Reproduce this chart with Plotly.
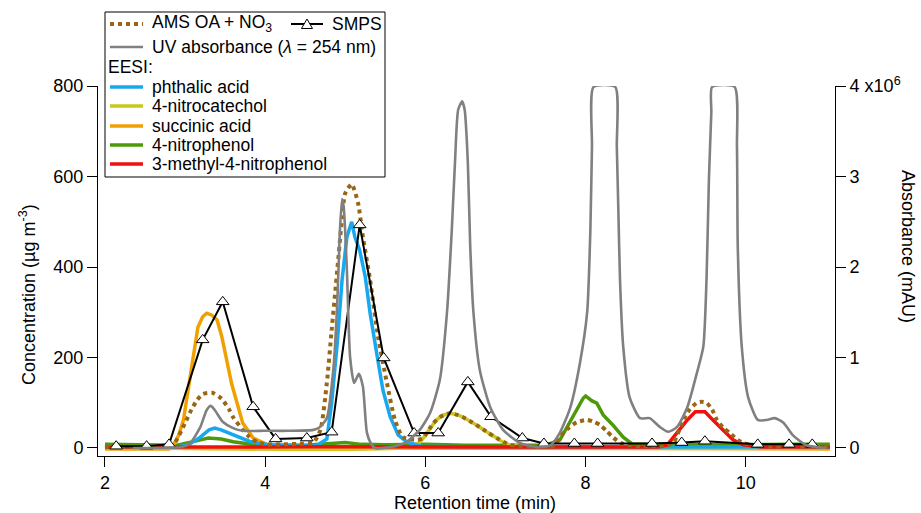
import plotly.graph_objects as go

# ---------------- data ----------------
ams_t = [2.0, 2.5, 2.8, 2.87, 3.0, 3.08, 3.15, 3.22, 3.34, 3.42, 3.47, 3.55, 3.6, 3.72, 3.8, 3.9, 4.02,
         4.2, 4.4, 4.6, 4.69, 4.77, 4.83, 4.9, 4.95, 5.0, 5.08, 5.16, 5.22, 5.31, 5.41, 5.52, 5.62, 5.72,
         5.9, 5.97, 6.1, 6.2, 6.31, 6.4, 6.47, 6.58, 6.68, 6.79, 6.89, 7.06, 7.3, 7.6, 7.72, 7.8, 7.89,
         8.02, 8.1, 8.18, 8.26, 8.34, 8.45, 8.7, 9.0, 9.1, 9.22, 9.3, 9.39, 9.45, 9.51, 9.58, 9.64, 9.72,
         9.8, 9.9, 9.97, 10.2, 10.6, 11.05]
ams_v = [3, 3, 4, 11, 55, 85, 106, 119, 122, 114, 106, 85, 68, 40, 25, 13, 8,
         8, 9, 12, 40, 144, 260, 393, 490, 563, 583, 541, 467, 371, 245, 144, 62, 24,
         18, 22, 55, 70, 77, 73, 68, 57, 46, 33, 22, 7, 4, 5, 33, 46, 57,
         62, 58, 51, 38, 24, 10, 4, 5, 13, 62, 85, 100, 102, 100, 85, 62, 45,
         33, 18, 11, 4, 3, 3]

smps_t = [2.14, 2.52, 2.80, 3.22, 3.47, 3.85, 4.13, 4.52, 4.83, 5.18, 5.48, 5.86, 6.16, 6.53, 6.82,
          7.21, 7.48, 7.86, 8.15, 8.83, 9.20, 9.49, 10.15, 10.54, 10.83]
smps_v = [4, 4, 8, 239, 323, 91, 20, 22, 35, 493, 199, 33, 33, 146, 69,
          22, 10, 10, 10, 10, 12, 15, 8, 8, 8]

uv_t = [2.35, 2.77, 2.95, 3.06, 3.19, 3.27, 3.32, 3.37, 3.47, 3.6, 3.72, 4.0, 4.3, 4.6, 4.68, 4.77,
        4.85, 4.9, 4.93, 4.96, 4.98, 5.02, 5.06, 5.11, 5.17, 5.22, 5.27, 5.32, 5.37, 5.56, 5.75, 5.93,
        6.06, 6.18, 6.27, 6.33, 6.37, 6.41, 6.46, 6.49, 6.53, 6.56, 6.6, 6.68, 6.81, 6.97, 7.18, 7.39,
        7.56, 7.68, 7.81, 7.93, 8.02, 8.06, 8.08, 8.1, 8.37, 8.39, 8.41, 8.43, 8.47, 8.55, 8.68, 8.8,
        8.93, 9.03, 9.14, 9.27, 9.39, 9.47, 9.51, 9.54, 9.57, 9.58, 9.86, 9.89, 9.9, 9.95, 10.03, 10.15,
        10.26, 10.36, 10.47, 10.59, 10.76, 11.01]
uv_v_1e6 = [0.0, 0.0, 0.01, 0.05, 0.23, 0.42, 0.465, 0.42, 0.29, 0.22, 0.19, 0.19, 0.19, 0.2, 0.23, 0.33,
            0.86, 1.6, 2.34, 2.75, 2.67, 1.97, 1.01, 0.72, 0.82, 0.68, 0.17, 0.05, 0.0, 0.01, 0.06, 0.2,
            0.39, 0.75, 1.5, 2.41, 3.16, 3.74, 3.83, 3.74, 3.16, 2.23, 1.5, 0.86, 0.45, 0.2, 0.055, 0.01,
            0.03, 0.17, 0.45, 0.94, 1.5, 2.41, 3.33, 3.99, 3.99, 3.33, 2.6, 1.86, 1.12, 0.56, 0.33, 0.33,
            0.23, 0.18, 0.23, 0.45, 0.83, 1.12, 1.86, 2.97, 3.71, 3.99, 3.99, 3.33, 2.23, 1.12, 0.56, 0.31,
            0.31, 0.33, 0.28, 0.14, 0.03, 0.0]

phthalic_t = [2.0, 2.9, 3.05, 3.19, 3.3, 3.37, 3.45, 3.52, 3.6, 3.69, 3.8, 3.9, 4.1, 4.4, 4.65, 4.77,
              4.83, 4.9, 4.96, 5.02, 5.05, 5.08, 5.12, 5.18, 5.25, 5.31, 5.4, 5.47, 5.56, 5.66, 5.77,
              5.95, 6.5, 7.5, 8.5, 9.5, 10.5, 11.05]
phthalic_v = [2, 2, 8, 24, 40, 44, 40, 35, 29, 22, 15, 11, 6, 4, 6, 20,
              99, 232, 371, 466, 482, 500, 466, 437, 378, 298, 201, 128, 69, 29, 13,
              4, 3, 2, 2, 2, 2, 2]

nitrocatechol_t = [2.0, 5.8, 5.93, 6.02, 6.14, 6.22, 6.31, 6.4, 6.47, 6.58, 6.68, 6.79, 6.89, 7.0, 7.2, 11.05]
nitrocatechol_v = [1, 2, 13, 33, 62, 72, 77, 73, 68, 57, 46, 33, 22, 10, 3, 1]

succinic_t = [2.0, 2.8, 2.85, 2.92, 2.98, 3.03, 3.08, 3.12, 3.16, 3.22, 3.27, 3.33, 3.4, 3.46, 3.52,
              3.58, 3.65, 3.72, 3.85, 4.02, 4.3, 11.05]
succinic_v = [-2, -2, 5, 28, 62, 120, 172, 230, 267, 290, 298, 294, 283, 245, 194,
              143, 99, 55, 22, 8, 0, -2]

nitrophenol_t = [2.0, 2.5, 2.9, 3.1, 3.29, 3.45, 3.6, 3.8, 4.0, 4.5, 4.9, 5.0, 5.2, 5.5, 6.0, 6.5, 7.0,
                 7.5, 7.68, 7.75, 7.81, 7.89, 7.97, 8.0, 8.08, 8.14, 8.18, 8.22, 8.34, 8.47, 8.58, 8.8,
                 9.2, 9.6, 10.0, 10.5, 11.05]
nitrophenol_v = [8, 7, 6, 14, 22, 20, 14, 9, 7, 6, 10, 12, 8, 7, 8, 6, 6,
                 6, 18, 40, 62, 84, 110, 115, 104, 99, 84, 73, 51, 24, 9, 8,
                 8, 7, 8, 8, 8]

methylnitrophenol_t = [2.0, 2.8, 3.5, 4.5, 5.5, 6.5, 7.5, 8.5, 8.9, 9.02, 9.14, 9.27, 9.37, 9.43, 9.49,
                       9.59, 9.72, 9.84, 9.97, 10.2, 11.05]
methylnitrophenol_v = [2, 1, 2, 3, 3, 2, 2, 2, 2, 7, 33, 62, 80, 80, 80,
                       62, 40, 18, 7, 2, 2]

x_ticks = [2, 4, 6, 8, 10]
y_ticks = [0, 200, 400, 600, 800]
y2_ticks = [0, 1e6, 2e6, 3e6, 4e6]
y2_ticktext = ["0", "1", "2", "3", "4 x10<sup>6</sup>"]

# ---------------- styling ----------------
FONT = "Liberation Sans, Arial, sans-serif"
C_AMS = "#9A6614"
C_UV = "#808080"
C_BLUE = "#18A8F0"
C_YEL = "#C8C81E"
C_ORA = "#F0A000"
C_GRN = "#4C9A0A"
C_RED = "#F01010"

W, H = 921, 513
L, R, T, B = 98, 86, 86, 57
PW, PH = W - L - R, H - T - B


def px(xp):
    return (xp - L) / PW


def py(yp):
    return (H - B - yp) / PH


fig = go.Figure()

fig.add_trace(go.Scatter(x=uv_t, y=[v * 1e6 for v in uv_v_1e6], yaxis="y2", mode="lines",
                         line=dict(color=C_UV, width=2.6, shape="spline", smoothing=0.6),
                         name="UV absorbance"))
fig.add_trace(go.Scatter(x=nitrophenol_t, y=nitrophenol_v, mode="lines",
                         line=dict(color=C_GRN, width=3.5), name="4-nitrophenol"))
fig.add_trace(go.Scatter(x=succinic_t, y=succinic_v, mode="lines",
                         line=dict(color=C_ORA, width=3.5), name="succinic acid"))
fig.add_trace(go.Scatter(x=nitrocatechol_t, y=nitrocatechol_v, mode="lines",
                         line=dict(color=C_YEL, width=3.5, shape="spline", smoothing=0.6),
                         name="4-nitrocatechol"))
fig.add_trace(go.Scatter(x=phthalic_t, y=phthalic_v, mode="lines",
                         line=dict(color=C_BLUE, width=3.5), name="phthalic acid"))
fig.add_trace(go.Scatter(x=methylnitrophenol_t, y=methylnitrophenol_v, mode="lines",
                         line=dict(color=C_RED, width=3.5), name="3-methyl-4-nitrophenol"))
fig.add_trace(go.Scatter(x=ams_t, y=ams_v, mode="lines",
                         line=dict(color=C_AMS, width=4, dash="dot", shape="spline", smoothing=0.6),
                         name="AMS OA + NO3"))
fig.add_trace(go.Scatter(x=smps_t, y=smps_v, mode="lines+markers",
                         line=dict(color="black", width=2),
                         marker=dict(symbol="triangle-up", size=11, color="white",
                                     line=dict(color="black", width=1)),
                         name="SMPS"))

ymin = -17.7
axis_common = dict(showgrid=False, zeroline=False, showline=True, linecolor="black", linewidth=1,
                   ticks="outside", ticklen=10, tickwidth=1, tickcolor="black",
                   tickfont=dict(family=FONT, size=18, color="black"))

fig.update_layout(
    width=W, height=H, margin=dict(l=L, r=R, t=T, b=B),
    paper_bgcolor="white", plot_bgcolor="white", showlegend=False,
    font=dict(family=FONT, size=18, color="black"),
    xaxis=dict(range=[1.913, 11.114], tickvals=x_ticks, **axis_common),
    yaxis=dict(range=[ymin, 800], tickvals=y_ticks, **axis_common),
    yaxis2=dict(range=[ymin * 5000, 4e6], overlaying="y", side="right", tickvals=y2_ticks,
                ticktext=y2_ticktext, **axis_common),
)

ann = []
ann.append(dict(text="Retention time (min)", x=px(475), y=py(503), xref="paper", yref="paper",
                showarrow=False, xanchor="center", yanchor="middle", font=dict(size=18)))
ann.append(dict(text="Concentration (µg m<sup>-3</sup>)", x=px(27), y=py(295), xref="paper", yref="paper",
                showarrow=False, xanchor="center", yanchor="middle", textangle=-90, font=dict(size=18)))
ann.append(dict(text="Absorbance (mAU)", x=px(908), y=py(246), xref="paper", yref="paper",
                showarrow=False, xanchor="center", yanchor="middle", textangle=90, font=dict(size=18)))

shapes = []
# legend box
shapes.append(dict(type="rect", xref="paper", yref="paper", x0=px(105), x1=px(385), y0=py(177), y1=py(12),
                   line=dict(color="black", width=1), fillcolor="white", layer="above"))

LEG_FS = 17.5
sw0, sw1, tx = 110, 143, 150
rows = [
    (24, "AMS OA + NO<sub>3</sub>", dict(color=C_AMS, width=4, dash="dot")),
    (47, "UV absorbance (<i>λ</i> = 254 nm)", dict(color=C_UV, width=2.6)),
    (67, None, None),
    (87, "phthalic acid", dict(color=C_BLUE, width=3.5)),
    (106, "4-nitrocatechol", dict(color=C_YEL, width=3.5)),
    (126, "succinic acid", dict(color=C_ORA, width=3.5)),
    (145, "4-nitrophenol", dict(color=C_GRN, width=3.5)),
    (164, "3-methyl-4-nitrophenol", dict(color=C_RED, width=3.5)),
]
for yy, label, ln in rows:
    if label is None:
        ann.append(dict(text="EESI:", x=px(106), y=py(yy), xref="paper", yref="paper", showarrow=False,
                        xanchor="left", yanchor="middle", font=dict(size=LEG_FS)))
        continue
    shapes.append(dict(type="line", xref="paper", yref="paper", x0=px(sw0), x1=px(sw1),
                       y0=py(yy), y1=py(yy), line=ln, layer="above"))
    ann.append(dict(text=label, x=px(tx), y=py(yy), xref="paper", yref="paper", showarrow=False,
                    xanchor="left", yanchor="middle", font=dict(size=LEG_FS)))

# SMPS legend entry on first row
shapes.append(dict(type="line", xref="paper", yref="paper", x0=px(291), x1=px(323),
                   y0=py(24), y1=py(24), line=dict(color="black", width=2), layer="above"))
tri = "M {:.5f} {:.5f} L {:.5f} {:.5f} L {:.5f} {:.5f} Z".format(
    px(301.5), py(28.5), px(312.5), py(28.5), px(307), py(19))
shapes.append(dict(type="path", xref="paper", yref="paper", path=tri, fillcolor="white",
                   line=dict(color="black", width=1), layer="above"))
ann.append(dict(text="SMPS", x=px(330), y=py(24), xref="paper", yref="paper", showarrow=False,
                xanchor="left", yanchor="middle", font=dict(size=LEG_FS)))

fig.update_layout(annotations=ann, shapes=shapes)

fig.write_html("out.html", config={"displayModeBar": False},
               post_script="document.body.style.margin='0';document.body.style.overflow='hidden';")
